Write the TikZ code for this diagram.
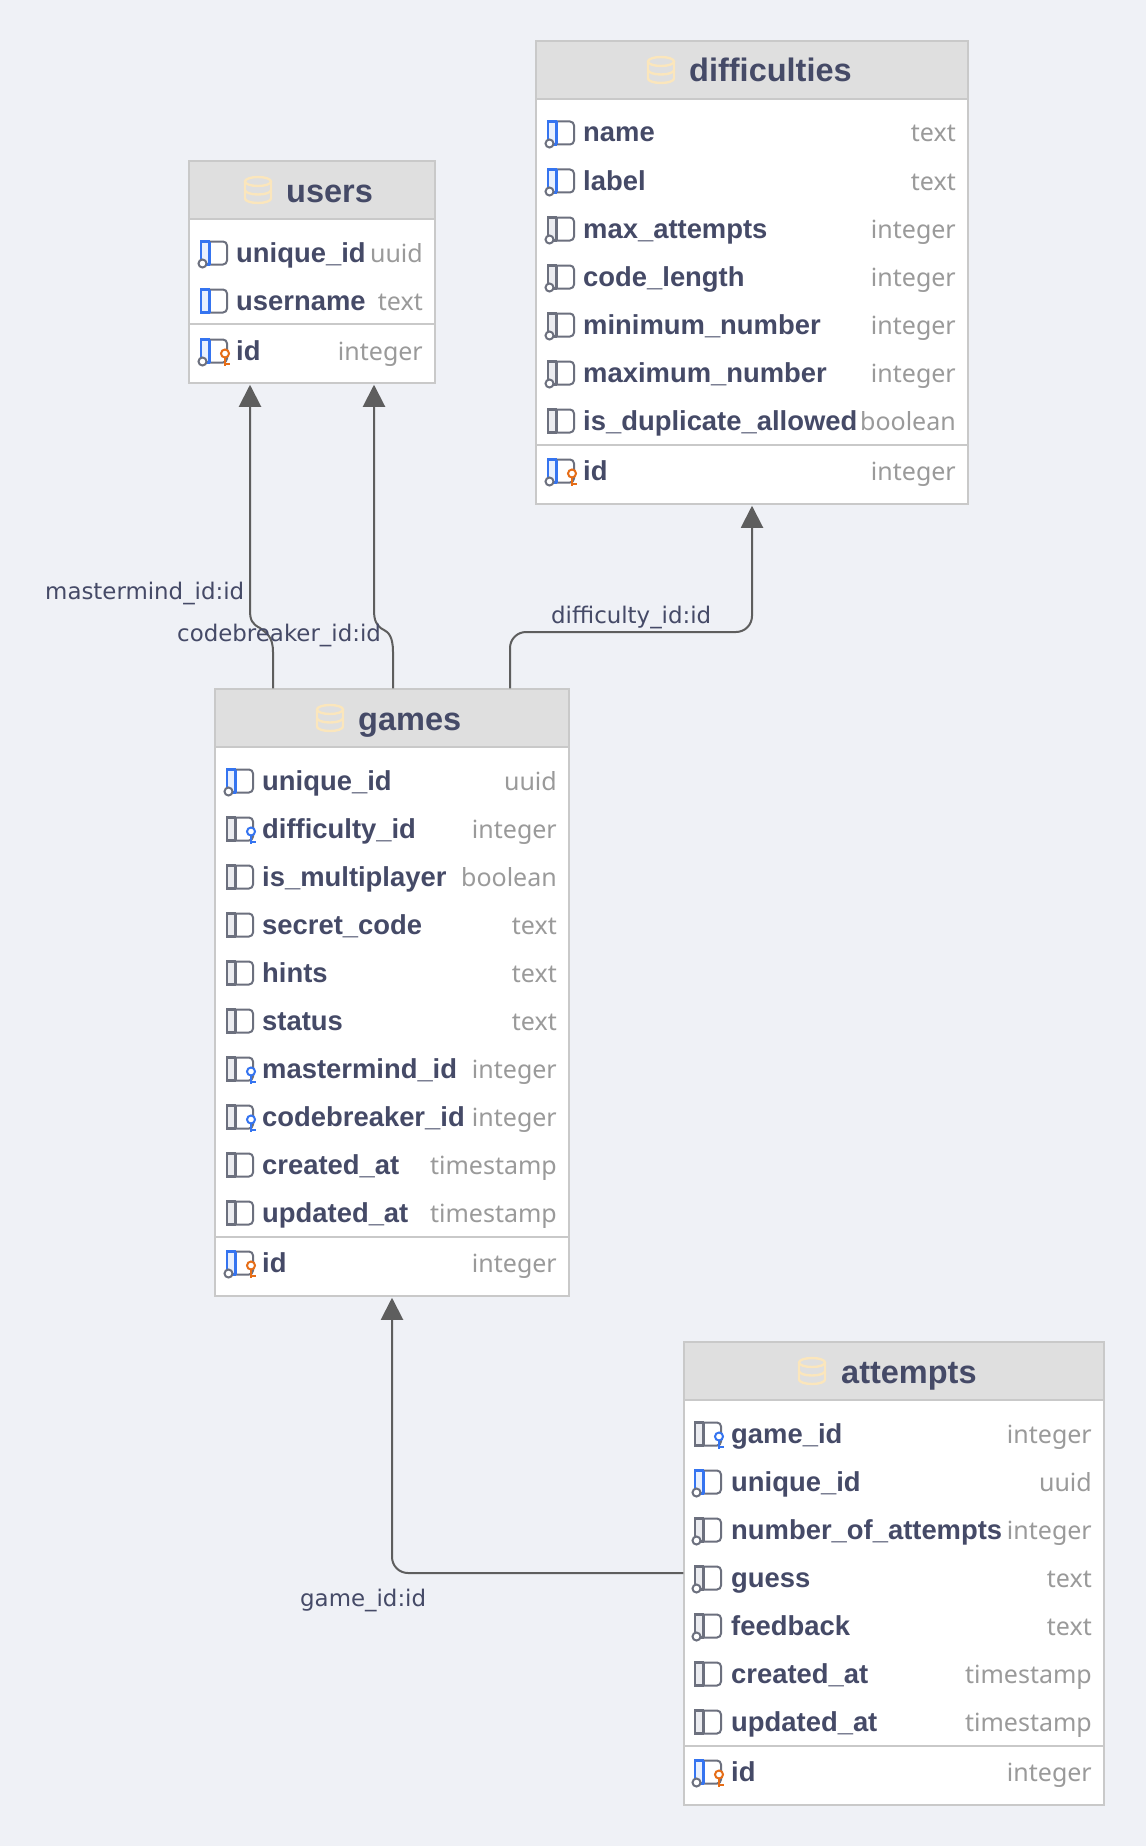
\documentclass[tikz,border=0pt]{standalone}
\usepackage{fontspec}
\setmainfont{Noto Sans}
\newfontfamily\namefont{Liberation Sans}
\newfontfamily\labelfont{DejaVu Sans}
\usetikzlibrary{arrows.meta}

\definecolor{pagebg}{HTML}{EFF1F6}
\definecolor{headbg}{HTML}{DFDFDF}
\definecolor{edgegray}{HTML}{C9C9C9}
\definecolor{inktext}{HTML}{454A67}
\definecolor{typegray}{HTML}{9A9A9A}
\definecolor{relgray}{HTML}{5E5E5E}
\definecolor{iconblue}{HTML}{3574F0}
\definecolor{iconfill}{HTML}{E8F0FE}
\definecolor{icongray}{HTML}{6C707E}
\definecolor{greyfill}{HTML}{EBECF0}
\definecolor{keyorange}{HTML}{E66D17}
\definecolor{dbyellow}{HTML}{FBE6BC}

\tikzset{
  tablebox/.style={draw=edgegray,line width=1.5pt,fill=white,inner sep=0pt},
  headbox/.style={draw=edgegray,line width=1.5pt,fill=headbg,inner sep=0pt},
  sepline/.style={draw=edgegray,line width=2pt},
  titletext/.style={anchor=base west,inner sep=0pt,text=inktext,font=\namefont\fontsize{32.5}{33}\selectfont\bfseries},
  nametext/.style={anchor=base west,fill=white,inner xsep=4pt,inner ysep=3pt,text=inktext,font=\namefont\fontsize{27.4}{28}\selectfont\bfseries},
  typetext/.style={anchor=base east,inner sep=0pt,text=typegray,font=\fontsize{25}{26}\selectfont},
  rellabel/.style={anchor=base west,inner sep=0pt,text=inktext,font=\labelfont\fontsize{22.9}{23}\selectfont},
  rel/.style={draw=relgray,line width=2pt,shorten >=1pt,-{Triangle[width=22pt,length=22pt]}},
}

% column icon: panel colour, then optional marks
\newcommand{\iconbox}[2]{
  \draw[icongray,line width=2pt,rounded corners=4pt] (-13,-11.5) rectangle (13,11.5);
  \fill[#2] (-13,-10.5) rectangle (-4,10.5);
  \draw[#1,line width=2.4pt] (-4.5,-11.5) -- (-13,-11.5) -- (-13,11.5) -- (-4.5,11.5);
  \draw[#1,line width=2.4pt] (-4.5,-11.5) -- (-4.5,11.5);
}
\newcommand{\iconnull}{\draw[icongray,line width=2pt,fill=white] (-11.5,10.5) circle (4pt);}
\newcommand{\iconkey}[1]{
  \draw[#1,line width=2pt,fill=white] (11,2.5) circle (4pt);
  \draw[#1,line width=2pt] (11,6.5) -- (11,15) (11,13) -- (16,13);
}
\newcommand{\icb}{\iconbox{iconblue}{iconfill}}
\newcommand{\icbn}{\iconbox{iconblue}{iconfill}\iconnull}
\newcommand{\icg}{\iconbox{icongray}{greyfill}}
\newcommand{\icgn}{\iconbox{icongray}{greyfill}\iconnull}
\newcommand{\icfk}{\iconbox{icongray}{greyfill}\iconkey{iconblue}}
\newcommand{\icpk}{\iconbox{iconblue}{iconfill}\iconnull\iconkey{keyorange}}
\newcommand{\dbicon}[2]{
  \begin{scope}[shift={(#1,#2)},dbyellow,line width=2.4pt]
    \draw (0,-8.5) ellipse (13 and 4.5);
    \draw (-13,-8.5) -- (-13,8.5) arc[start angle=180,end angle=0,x radius=13,y radius=4.5] -- (13,-8.5);
    \draw (-13,0) arc[start angle=180,end angle=0,x radius=13,y radius=4.5];
  \end{scope}
}

\begin{document}
\begin{tikzpicture}[x=1pt,y=-1pt]
\useasboundingbox[fill=pagebg] (0,0) rectangle (1146,1846);

% users
\node[tablebox,minimum width=246pt,minimum height=222pt] (users) at (312,272) {};
\node[headbox,minimum width=246pt,minimum height=58pt] (users-head) at (312,190) {};
\dbicon{258}{190}
\node[titletext] (users-title) at (286,202) {users};
\foreach \n/\t/\k/\y [count=\i] in {unique\_id/uuid/\icbn/253,username/text/\icb/301,id/integer/\icpk/351} {
  \node[typetext] (users-t\i) at (423,\y+9) {\t};
  \node[nametext] (users-n\i) at (232,\y+9) {\n};
  \begin{scope}[shift={(214,\y)}] \k \end{scope}
}
\draw[sepline] (users.west |- 0,324) -- (users.east |- 0,324);

% difficulties
\node[tablebox,minimum width=432pt,minimum height=463pt] (difficulties) at (752,272.5) {};
\node[headbox,minimum width=432pt,minimum height=58pt] (difficulties-head) at (752,70) {};
\dbicon{661}{70}
\node[titletext] (difficulties-title) at (689,82) {difficulties};
\foreach \n/\t/\k/\y [count=\i] in {name/text/\icbn/133,label/text/\icbn/181,max\_attempts/integer/\icgn/229,code\_length/integer/\icgn/277,minimum\_number/integer/\icgn/325,maximum\_number/integer/\icgn/373,is\_duplicate\_allowed/boolean/\icg/421,id/integer/\icpk/471} {
  \node[typetext] (difficulties-t\i) at (956,\y+9) {\t};
  \node[nametext] (difficulties-n\i) at (579,\y+9) {\n};
  \begin{scope}[shift={(561,\y)}] \k \end{scope}
}
\draw[sepline] (difficulties.west |- 0,445) -- (difficulties.east |- 0,445);

% games
\node[tablebox,minimum width=354pt,minimum height=607pt] (games) at (392,992.5) {};
\node[headbox,minimum width=354pt,minimum height=58pt] (games-head) at (392,718) {};
\dbicon{330}{718}
\node[titletext] (games-title) at (358,730) {games};
\foreach \n/\t/\k/\y [count=\i] in {unique\_id/uuid/\icbn/781,difficulty\_id/integer/\icfk/829,is\_multiplayer/boolean/\icg/877,secret\_code/text/\icg/925,hints/text/\icg/973,status/text/\icg/1021,mastermind\_id/integer/\icfk/1069,codebreaker\_id/integer/\icfk/1117,created\_at/timestamp/\icg/1165,updated\_at/timestamp/\icg/1213,id/integer/\icpk/1263} {
  \node[typetext] (games-t\i) at (557,\y+9) {\t};
  \node[nametext] (games-n\i) at (258,\y+9) {\n};
  \begin{scope}[shift={(240,\y)}] \k \end{scope}
}
\draw[sepline] (games.west |- 0,1237) -- (games.east |- 0,1237);

% attempts
\node[tablebox,minimum width=420pt,minimum height=463pt] (attempts) at (894,1573.5) {};
\node[headbox,minimum width=420pt,minimum height=58pt] (attempts-head) at (894,1371) {};
\dbicon{812}{1371}
\node[titletext] (attempts-title) at (841,1383) {attempts};
\foreach \n/\t/\k/\y [count=\i] in {game\_id/integer/\icfk/1434,unique\_id/uuid/\icbn/1482,number\_of\_attempts/integer/\icgn/1530,guess/text/\icgn/1578,feedback/text/\icgn/1626,created\_at/timestamp/\icg/1674,updated\_at/timestamp/\icg/1722,id/integer/\icpk/1772} {
  \node[typetext] (attempts-t\i) at (1092,\y+9) {\t};
  \node[nametext] (attempts-n\i) at (727,\y+9) {\n};
  \begin{scope}[shift={(708,\y)}] \k \end{scope}
}
\draw[sepline] (attempts.west |- 0,1746) -- (attempts.east |- 0,1746);

% relations
\coordinate (games-mm) at (games.north -| 273,0);
\coordinate (games-cb) at (games.north -| 393,0);
\coordinate (games-df) at (games.north -| 510,0);
\coordinate (users-mm) at (users.south -| 250,0);
\coordinate (users-cb) at (users.south -| 374,0);
\coordinate (diff-df) at (difficulties.south -| 752,0);
\coordinate (attempts-gm) at (attempts.west |- 0,1573);

\draw[rel] (games-mm) -- (273,652) .. controls (273,636) and (266,633) .. (260,628) .. controls (252,624) and (250,620) .. (250,610) -- (users-mm);
\draw[rel] (games-cb) -- (393,652) .. controls (393,636) and (388,632) .. (384,630) .. controls (376,626) and (374,620) .. (374,610) -- (users-cb);
\draw[rel,rounded corners=16pt] (games-df) |- (632,632) -| (diff-df);
\draw[rel,rounded corners=16pt] (attempts-gm) -| (games.south);

\node[rellabel] (mm-label) at (45,599) {mastermind\_id:id};
\node[rellabel] (cb-label) at (177,641) {codebreaker\_id:id};
\node[rellabel] (df-label) at (551,623) {difficulty\_id:id};
\node[rellabel] (gm-label) at (300,1606) {game\_id:id};
\end{tikzpicture}
\end{document}
